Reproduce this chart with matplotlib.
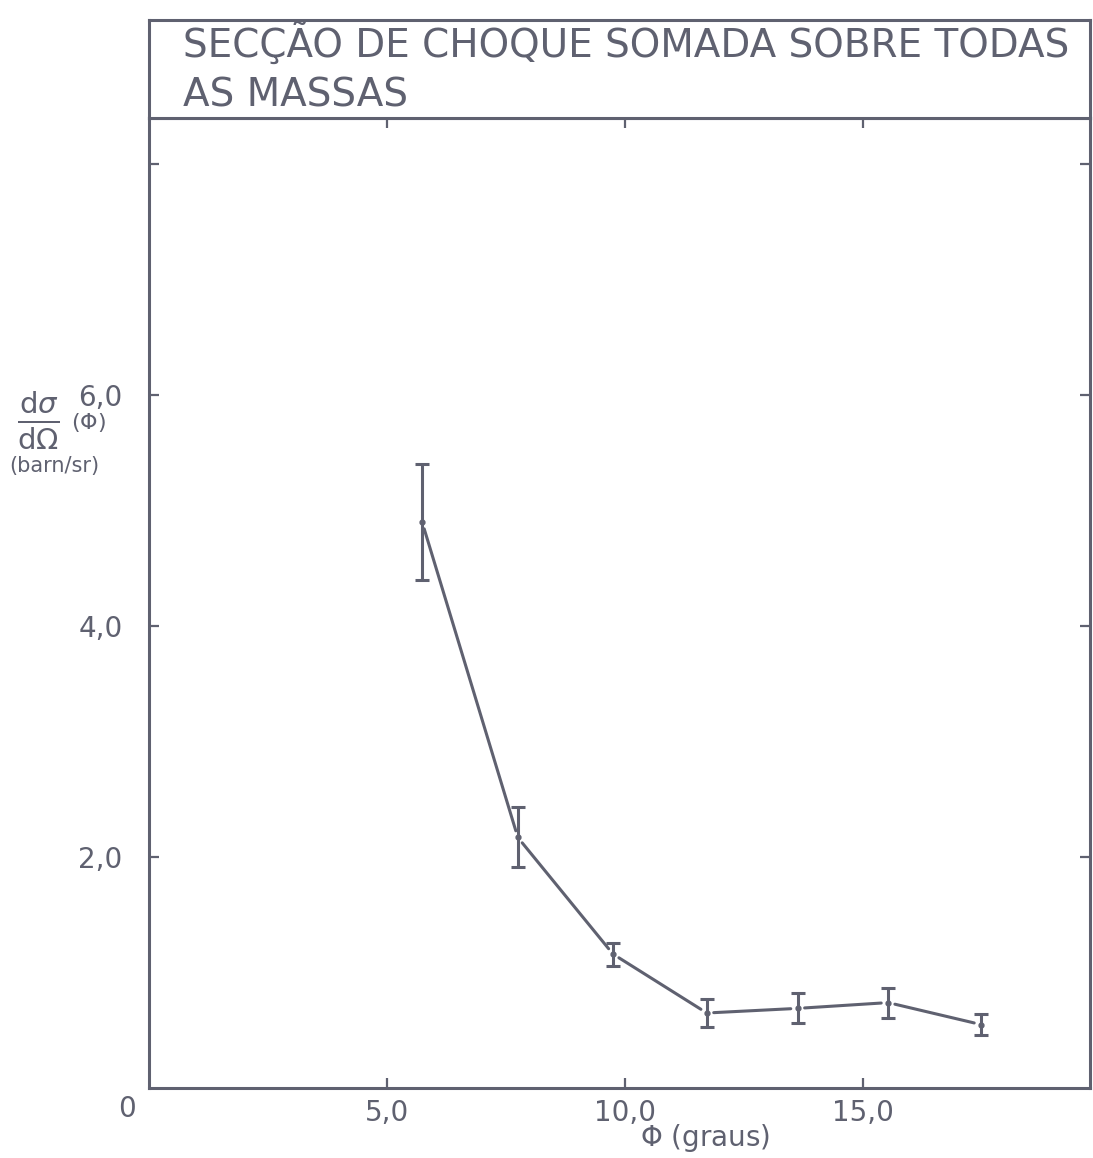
import matplotlib
matplotlib.use("Agg")
import matplotlib.pyplot as plt

# values
phi = [5.74, 7.75, 9.75, 11.72, 13.63, 15.53, 17.48]
sigma = [4.90, 2.17, 1.16, 0.65, 0.69, 0.74, 0.55]
sigma_err = [0.50, 0.26, 0.10, 0.12, 0.13, 0.13, 0.09]

xticks = [5.0, 10.0, 15.0]
xtick_labels = ["5,0", "10,0", "15,0"]
yticks = [2.0, 4.0, 6.0, 8.0]
ytick_labels = ["2,0", "4,0", "6,0", ""]

title_lines = ["SECÇÃO DE CHOQUE SOMADA SOBRE TODAS", "AS MASSAS"]

INK = "#5f6170"
LW = 2.2

plt.rcParams["font.family"] = ["DejaVu Sans"]
plt.rcParams["mathtext.fontset"] = "dejavusans"

fig = plt.figure(figsize=(10.93, 11.58), dpi=100)
ax = fig.add_axes([0.1363, 0.0604, 0.8609, 0.8377])
box = fig.add_axes([0.1363, 0.8981, 0.8609, 0.0846])

# title box
box.set_xticks([])
box.set_yticks([])
for s in box.spines.values():
    s.set_color(INK)
    s.set_linewidth(LW)
box.text(0.036, 0.62, title_lines[0], transform=box.transAxes, fontsize=28,
         color=INK, ha="left", va="baseline")
box.text(0.036, 0.12, title_lines[1], transform=box.transAxes, fontsize=28,
         color=INK, ha="left", va="baseline")

# data: error bars and hand-drawn style connecting segments
ax.errorbar(phi, sigma, yerr=sigma_err, fmt="o", ms=3.5, color=INK,
            ecolor=INK, elinewidth=LW, capsize=5, capthick=LW)
for i in range(len(phi) - 1):
    ax.annotate("", xy=(phi[i + 1], sigma[i + 1]), xytext=(phi[i], sigma[i]),
                arrowprops=dict(arrowstyle="-", color=INK, lw=LW,
                                shrinkA=5, shrinkB=5))

ax.set_xlim(0, 19.77)
ax.set_ylim(0, 8.4)
ax.set_xticks(xticks)
ax.set_xticklabels(xtick_labels)
ax.set_yticks(yticks)
ax.set_yticklabels(ytick_labels)
ax.tick_params(direction="in", length=7, width=1.6, color=INK,
               labelcolor=INK, labelsize=20, top=True, right=True)
ax.tick_params(axis="x", pad=8)
ax.tick_params(axis="y", pad=19)
for s in ax.spines.values():
    s.set_color(INK)
    s.set_linewidth(LW)

ax.annotate("0", xy=(0, 0), xytext=(-16, -15), textcoords="offset points",
            ha="center", va="center", fontsize=20, color=INK,
            annotation_clip=False)

# axis labels
fig.text(0.645, 0.017, r"$\Phi$ (graus)", fontsize=20, color=INK,
         ha="center", va="center")
fig.text(0.035, 1 - 420 / 1158, r"$\frac{\mathrm{d}\sigma}{\mathrm{d}\Omega}$",
         fontsize=30, color=INK, ha="center", va="center")
fig.text(0.081, 1 - 422 / 1158, r"($\Phi$)", fontsize=16, color=INK,
         ha="center", va="center")
fig.text(0.050, 1 - 466 / 1158, "(barn/sr)", fontsize=15, color=INK,
         ha="center", va="center")

fig.savefig("out.png", dpi=100, facecolor="white")
